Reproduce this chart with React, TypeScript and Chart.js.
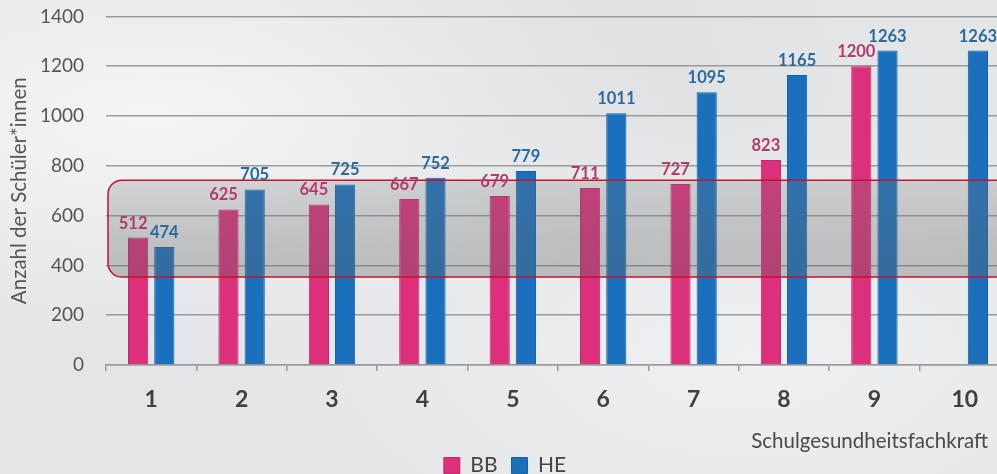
import React, { useEffect, useRef } from "react";
import { Chart, registerables } from "chart.js";

Chart.register(...registerables);

const categories = ["1", "2", "3", "4", "5", "6", "7", "8", "9", "10"];
const bbValues: (number | null)[] = [512, 625, 645, 667, 679, 711, 727, 823, 1200, null];
const heValues: (number | null)[] = [474, 705, 725, 752, 779, 1011, 1095, 1165, 1263, 1263];
const seriesNames = ["BB", "HE"];
const yMin = 0;
const yMax = 1400;
const yStep = 200;
const highlightLow = 353;
const highlightHigh = 742;
const yTitle = "Anzahl der Schüler*innen";
const xTitle = "Schulgesundheitsfachkraft";

const PINK = "#dc2f7c";
const BLUE = "#1a70bd";
const PINK_LABEL = "#b23b6b";
const BLUE_LABEL = "#2b6a9e";
const FONT = "Lato, 'Open Sans', sans-serif";
const SHIFT = 17;

const overlayPlugin = {
  id: "overlay",
  afterDatasetsDraw(chart: any) {
    const { ctx, chartArea, scales } = chart;
    const y = scales.y;
    const top = y.getPixelForValue(highlightHigh);
    const bottom = y.getPixelForValue(highlightLow);
    const left = chartArea.left + 2;
    const right = chartArea.right + 30;
    ctx.save();
    const g = ctx.createLinearGradient(0, top, 0, bottom);
    g.addColorStop(0, "rgba(120,120,120,0.24)");
    g.addColorStop(0.6, "rgba(105,105,105,0.32)");
    g.addColorStop(1, "rgba(100,100,100,0.34)");
    ctx.beginPath();
    ctx.roundRect(left, top, right - left, bottom - top, 14);
    ctx.fillStyle = g;
    ctx.fill();
    ctx.lineWidth = 1.5;
    ctx.strokeStyle = "#c0142e";
    ctx.stroke();
    ctx.restore();

    // data labels
    ctx.save();
    ctx.font = `bold 16.5px ${FONT}`;
    ctx.textAlign = "center";
    ctx.textBaseline = "alphabetic";
    chart.data.datasets.forEach((ds: any, di: number) => {
      const meta = chart.getDatasetMeta(di);
      meta.data.forEach((el: any, i: number) => {
        const v = ds.data[i];
        if (v === null || v === undefined) return;
        ctx.fillStyle = di === 0 ? PINK_LABEL : BLUE_LABEL;
        ctx.fillText(String(v), el.x + (di === 0 ? -5 : 0), el.y - 9);
      });
    });
    ctx.restore();

    // x axis title
    ctx.save();
    ctx.font = `20.5px ${FONT}`;
    ctx.fillStyle = "#4a4a4a";
    ctx.textAlign = "right";
    ctx.textBaseline = "middle";
    ctx.fillText(xTitle, 988, 441 + SHIFT);
    ctx.restore();
  },
};

export default function App() {
  const ref = useRef<HTMLCanvasElement | null>(null);

  useEffect(() => {
    if (!ref.current) return;
    const chart = new Chart(ref.current, {
      type: "bar",
      data: {
        labels: categories,
        datasets: [
          {
            label: seriesNames[0],
            data: bbValues,
            backgroundColor: PINK,
            borderColor: "#c0286a",
            borderWidth: 1,
            categoryPercentage: 0.58,
            barPercentage: 0.77,
          },
          {
            label: seriesNames[1],
            data: heValues,
            backgroundColor: BLUE,
            borderColor: "#1860a4",
            borderWidth: 1,
            categoryPercentage: 0.58,
            barPercentage: 0.77,
          },
        ],
      },
      options: {
        responsive: false,
        animation: false,
        devicePixelRatio: 1,
        layout: { padding: { top: 0, left: 0, right: 0, bottom: 3 } },
        plugins: {
          tooltip: { enabled: false },
          legend: {
            position: "bottom",
            labels: {
              boxWidth: 16,
              boxHeight: 16,
              padding: 14,
              color: "#444",
              font: { family: FONT, size: 21 },
            },
          },
        },
        scales: {
          x: {
            offset: true,
            grid: {
              display: true,
              drawOnChartArea: false,
              drawTicks: true,
              tickLength: 6,
              color: "#9a9a9a",
              lineWidth: 1.5,
              offset: true,
            },
            border: { display: true, color: "#9a9a9a", width: 1.5 },
            ticks: {
              color: "#404040",
              padding: 15,
              font: { family: FONT, size: 23, weight: "bold" },
              maxRotation: 0,
            },
            afterFit(scale: any) {
              scale.height = 76;
            },
          },
          y: {
            min: yMin,
            max: yMax,
            ticks: {
              stepSize: yStep,
              color: "#555",
              padding: 22,
              font: { family: FONT, size: 19 },
              callback: (v: any) => String(v),
            },
            grid: {
              color: "rgba(145,145,145,0.9)",
              lineWidth: 1.5,
              drawTicks: false,
            },
            border: { display: false },
            title: {
              display: true,
              text: yTitle,
              color: "#555",
              font: { family: FONT, size: 20.5 },
              padding: { top: 7, bottom: 0 },
            },
            afterFit(scale: any) {
              scale.width = 106;
            },
          },
        },
      },
      plugins: [overlayPlugin],
    });
    return () => chart.destroy();
  }, []);

  return (
    <div
      style={{
        position: "fixed",
        left: 0,
        top: 0,
        width: 997,
        height: 474,
        overflow: "hidden",
        background:
          "radial-gradient(ellipse at 15% 25%, rgba(245,246,247,0.9) 0%, rgba(245,246,247,0) 45%), radial-gradient(ellipse at 75% 75%, rgba(240,241,242,0.9) 0%, rgba(240,241,242,0) 50%), radial-gradient(ellipse at 55% 15%, rgba(220,222,224,0.8) 0%, rgba(220,222,224,0) 40%), #e3e5e7",
      }}
    >
      <canvas
        ref={ref}
        width={1010}
        height={506}
        style={{ display: "block", width: 1010, height: 506, marginTop: -SHIFT }}
      />
    </div>
  );
}
